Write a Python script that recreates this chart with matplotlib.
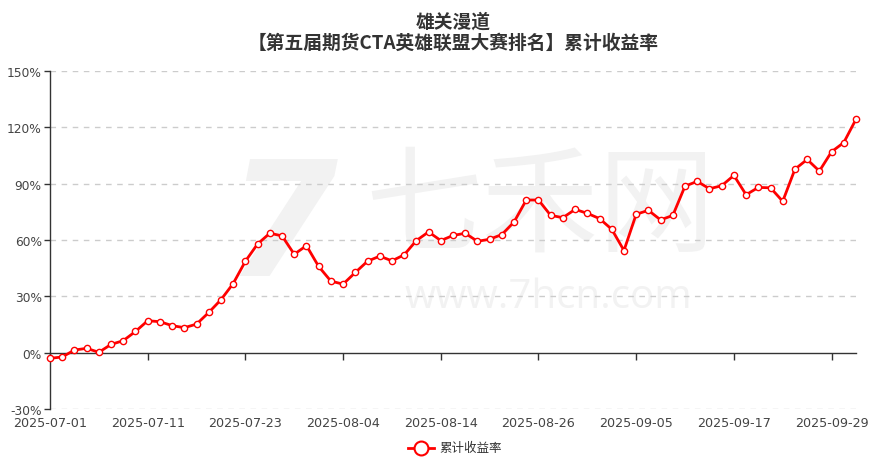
import matplotlib
matplotlib.use("Agg")
import matplotlib.pyplot as plt
from matplotlib.lines import Line2D
import matplotlib.transforms as mtransforms

dates = [
    "2025-07-01", "2025-07-02", "2025-07-03", "2025-07-04", "2025-07-07", "2025-07-08",
    "2025-07-09", "2025-07-10", "2025-07-11", "2025-07-14", "2025-07-15", "2025-07-16",
    "2025-07-17", "2025-07-18", "2025-07-21", "2025-07-22", "2025-07-23", "2025-07-24",
    "2025-07-25", "2025-07-28", "2025-07-29", "2025-07-30", "2025-07-31",
    "2025-08-01", "2025-08-04", "2025-08-05", "2025-08-06", "2025-08-07", "2025-08-08",
    "2025-08-11", "2025-08-12", "2025-08-13", "2025-08-14", "2025-08-15", "2025-08-18",
    "2025-08-19", "2025-08-20", "2025-08-21", "2025-08-22", "2025-08-25", "2025-08-26",
    "2025-08-27", "2025-08-28", "2025-08-29",
    "2025-09-01", "2025-09-02", "2025-09-03", "2025-09-04", "2025-09-05", "2025-09-08",
    "2025-09-09", "2025-09-10", "2025-09-11", "2025-09-12", "2025-09-15", "2025-09-16",
    "2025-09-17", "2025-09-18", "2025-09-19", "2025-09-22", "2025-09-23", "2025-09-24",
    "2025-09-25", "2025-09-26", "2025-09-29", "2025-09-30", "2025-10-09",
]

returns = [
    -3.0, -2.3, 1.4, 2.3, 0.2, 4.4, 6.4, 11.3, 17.0, 16.5,
    14.4, 13.3, 15.2, 21.4, 28.2, 36.8, 48.7, 57.9, 63.6, 62.2,
    52.4, 57.0, 45.9, 38.1, 36.5, 42.7, 48.7, 51.4, 48.9, 52.1,
    59.7, 64.3, 59.7, 62.4, 63.6, 59.3, 60.4, 62.9, 69.6, 81.3,
    81.3, 73.1, 71.9, 76.3, 74.2, 71.4, 65.7, 54.4, 73.7, 75.8,
    70.7, 73.1, 88.7, 91.2, 87.3, 88.9, 94.4, 84.1, 88.0, 87.8,
    80.6, 97.7, 102.9, 96.7, 107.0, 111.9, 124.3,
]

y_ticks = [-30, 0, 30, 60, 90, 120, 150]
label_step = 8
title_line1 = "雄关漫道"
title_line2 = "【第五届期货CTA英雄联盟大赛排名】累计收益率"
series_name = "累计收益率"

W, H = 893, 464
fig = plt.figure(figsize=(W / 100, H / 100), dpi=100)
fig.patch.set_facecolor("white")

L, R, T, B = 50, 856, 72, 410
ax = fig.add_axes([L / W, 1 - B / H, (R - L) / W, (B - T) / H])

cjk = ["Noto Sans CJK SC", "DejaVu Sans"]

# watermark (drawn inside the axes, beneath everything)
wm = "#f2f2f2"
ax.text(282 / W, 1 - 232 / H, "7", fontsize=115, fontweight="bold", color=wm,
        ha="center", va="center", family=["DejaVu Sans"], fontstyle="italic",
        transform=fig.transFigure, zorder=0)
ax.text(540 / W, 1 - 210 / H, "七禾网", fontsize=84, color=wm, ha="center", va="center",
        family=cjk, fontweight="light", transform=fig.transFigure, zorder=0)
ax.text(548 / W, 1 - 298 / H, "www.7hcn.com", fontsize=29, color=wm, ha="center",
        va="center", family=["Open Sans", "DejaVu Sans"], transform=fig.transFigure,
        zorder=0)
ax.patch.set_alpha(0)

x = list(range(len(dates)))
ax.plot(x, returns, color="#ff0000", lw=2, marker="o", ms=4.5, mfc="white",
        mec="#ff0000", mew=1, zorder=5, clip_on=False)

ax.set_xlim(0, len(dates) - 1)
ax.set_ylim(y_ticks[0], y_ticks[-1])

# y axis
ax.set_yticks(y_ticks)
ax.set_yticklabels([f"{v}%" for v in y_ticks], fontsize=8.8, color="#444444",
                   family=["DejaVu Sans"])
ax.tick_params(axis="y", length=4, width=1, color="#333333", pad=2)
for v in y_ticks:
    if v != 0:
        ax.axhline(v, color="#cccccc", lw=1, ls=(0, (4, 4)), zorder=1)

for s in ["top", "right"]:
    ax.spines[s].set_visible(False)
ax.spines["left"].set_color("#333333")
ax.spines["left"].set_linewidth(1)
ax.spines["bottom"].set_position(("data", 0))
ax.spines["bottom"].set_color("#333333")
ax.spines["bottom"].set_linewidth(1)

tick_idx = list(range(0, len(dates), label_step))
ax.set_xticks(tick_idx)
ax.set_xticklabels([])
ax.tick_params(axis="x", length=5, width=1, color="#333333", direction="out")

trans = mtransforms.blended_transform_factory(ax.transData, ax.transAxes)
for i in tick_idx:
    ax.annotate(dates[i], xy=(i, 0), xycoords=trans, xytext=(0, -10),
                textcoords="offset points", ha="center", va="center",
                fontsize=9.2, color="#444444", family=["DejaVu Sans"], annotation_clip=False)

# titles
cx = (L + R) / 2 / W
fig.text(cx, 1 - 22 / H, title_line1, fontsize=13.5, fontweight="bold", color="#333333",
         ha="center", va="center", family=cjk)
fig.text(cx, 1 - 43 / H, title_line2, fontsize=13.5, fontweight="bold", color="#333333",
         ha="center", va="center", family=cjk)

# legend
ly = 1 - 449 / H
fig.add_artist(Line2D([408 / W, 434 / W], [ly, ly], color="#ff0000", lw=2,
                      transform=fig.transFigure))
fig.add_artist(Line2D([421 / W], [ly], marker="o", ms=10, mfc="white", mec="#ff0000",
                      mew=1.5, transform=fig.transFigure))
fig.text(439 / W, ly, series_name, fontsize=9, color="#333333", ha="left", va="center",
         family=cjk)

fig.savefig("out.png", dpi=100, facecolor="white")
